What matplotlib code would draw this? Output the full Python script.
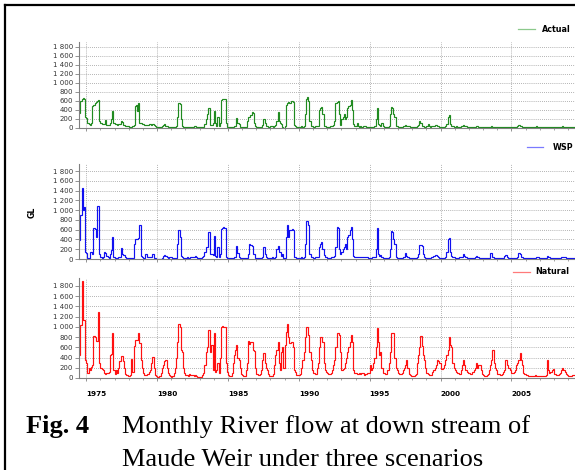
import numpy as np
import matplotlib
matplotlib.use("Agg")
import matplotlib.pyplot as plt
from matplotlib.lines import Line2D
from matplotlib.ticker import MultipleLocator, FuncFormatter

# Monthly flow (GL), one row per water year Jul(Y) .. Jun(Y+1), starting Jul 1974
start_year = 1974.5
water_years = list(range(1974, 2009))

actual = [
    [330, 600, 650, 660, 640, 250, 230, 110, 80, 70, 100, 480],
    [520, 560, 580, 610, 620, 150, 100, 90, 80, 80, 180, 60],
    [60, 70, 120, 190, 380, 100, 90, 80, 70, 90, 80, 150],
    [140, 70, 60, 50, 40, 40, 30, 30, 30, 40, 60, 480],
    [520, 380, 550, 120, 100, 90, 80, 70, 60, 60, 70, 80],
    [80, 60, 90, 70, 40, 30, 30, 30, 20, 30, 50, 60],
    [80, 50, 40, 30, 20, 20, 20, 20, 20, 20, 40, 250],
    [560, 540, 200, 40, 30, 20, 20, 20, 20, 20, 30, 30],
    [30, 40, 40, 30, 20, 20, 20, 20, 20, 30, 80, 200],
    [300, 450, 440, 60, 60, 100, 380, 120, 50, 250, 50, 100],
    [620, 650, 650, 640, 100, 30, 20, 20, 20, 20, 30, 40],
    [50, 220, 120, 80, 30, 30, 20, 20, 20, 30, 150, 250],
    [250, 280, 350, 340, 120, 40, 20, 20, 10, 20, 30, 60],
    [200, 120, 40, 40, 30, 30, 40, 40, 30, 40, 60, 150],
    [350, 150, 120, 80, 30, 10, 40, 500, 560, 580, 560, 600],
    [600, 580, 60, 40, 30, 30, 20, 30, 40, 30, 40, 300],
    [650, 680, 600, 150, 50, 40, 30, 30, 40, 40, 50, 400],
    [450, 460, 300, 50, 40, 30, 30, 30, 40, 40, 50, 60],
    [150, 560, 580, 600, 300, 60, 200, 250, 300, 200, 250, 450],
    [480, 500, 620, 400, 80, 50, 40, 100, 40, 30, 40, 30],
    [40, 50, 40, 30, 30, 20, 20, 20, 30, 30, 40, 200],
    [450, 80, 60, 50, 100, 40, 30, 30, 30, 30, 40, 300],
    [460, 450, 300, 250, 50, 40, 30, 30, 30, 30, 40, 40],
    [60, 50, 40, 40, 30, 30, 30, 30, 30, 30, 40, 60],
    [150, 120, 50, 40, 30, 30, 50, 80, 40, 30, 40, 50],
    [50, 60, 70, 50, 40, 30, 30, 30, 30, 30, 40, 80],
    [250, 290, 80, 50, 40, 30, 30, 50, 30, 30, 30, 40],
    [40, 60, 50, 40, 30, 20, 20, 20, 20, 20, 30, 30],
    [50, 40, 30, 20, 20, 20, 15, 15, 15, 20, 20, 20],
    [30, 40, 30, 20, 20, 20, 15, 15, 15, 15, 20, 20],
    [30, 30, 25, 20, 20, 20, 15, 15, 15, 20, 30, 40],
    [70, 50, 40, 30, 20, 20, 15, 15, 15, 15, 20, 20],
    [25, 30, 20, 40, 30, 20, 15, 15, 15, 15, 15, 20],
    [30, 30, 25, 20, 20, 15, 15, 15, 15, 15, 20, 20],
    [30, 35, 30, 25, 20, 15, 15, 15, 15, 15, 20, 20],
]

wsp = [
    [380, 900, 1460, 1000, 1070, 150, 120, 20, 10, 150, 150, 100],
    [630, 620, 450, 1080, 1080, 100, 40, 30, 40, 150, 120, 60],
    [40, 30, 100, 180, 450, 50, 30, 30, 20, 40, 50, 220],
    [100, 90, 80, 40, 30, 30, 30, 20, 20, 20, 300, 400],
    [400, 410, 420, 700, 60, 40, 30, 30, 100, 40, 40, 40],
    [40, 50, 100, 30, 20, 10, 10, 10, 10, 10, 20, 60],
    [80, 60, 40, 30, 40, 50, 40, 30, 20, 20, 30, 300],
    [600, 450, 60, 40, 30, 30, 30, 40, 30, 30, 40, 50],
    [40, 50, 60, 40, 30, 30, 30, 30, 40, 60, 150, 250],
    [250, 550, 550, 100, 100, 80, 470, 60, 50, 250, 50, 100],
    [620, 640, 650, 640, 50, 30, 20, 20, 20, 30, 30, 40],
    [50, 260, 120, 40, 30, 20, 20, 20, 20, 20, 30, 100],
    [300, 280, 270, 100, 110, 30, 20, 20, 20, 20, 20, 40],
    [250, 110, 40, 30, 20, 20, 30, 40, 30, 30, 40, 200],
    [260, 150, 150, 60, 100, 20, 20, 450, 700, 450, 600, 600],
    [620, 600, 50, 40, 30, 30, 20, 30, 40, 30, 40, 300],
    [780, 780, 700, 100, 50, 40, 30, 30, 40, 40, 50, 250],
    [300, 350, 200, 80, 40, 40, 30, 30, 30, 40, 40, 50],
    [60, 250, 650, 640, 200, 100, 150, 200, 250, 300, 200, 450],
    [500, 600, 650, 400, 60, 50, 50, 40, 40, 40, 40, 40],
    [50, 50, 40, 40, 40, 30, 30, 30, 40, 40, 50, 200],
    [640, 100, 60, 80, 40, 30, 30, 30, 30, 30, 40, 200],
    [580, 560, 400, 300, 50, 30, 30, 30, 30, 30, 40, 40],
    [120, 60, 40, 30, 30, 30, 30, 30, 30, 30, 50, 100],
    [280, 280, 260, 100, 50, 30, 30, 30, 30, 30, 40, 50],
    [70, 80, 80, 70, 40, 30, 30, 30, 30, 30, 40, 150],
    [400, 420, 150, 60, 40, 40, 30, 30, 30, 30, 40, 40],
    [50, 100, 60, 40, 30, 30, 30, 30, 30, 30, 30, 40],
    [60, 50, 40, 30, 30, 20, 20, 20, 20, 20, 30, 30],
    [130, 120, 40, 30, 30, 20, 20, 20, 20, 20, 30, 30],
    [60, 80, 40, 30, 20, 20, 20, 20, 20, 20, 30, 40],
    [120, 110, 50, 40, 30, 30, 20, 20, 20, 20, 20, 30],
    [30, 30, 30, 50, 40, 30, 20, 20, 20, 20, 20, 30],
    [60, 50, 40, 30, 30, 20, 20, 20, 20, 20, 30, 30],
    [40, 50, 50, 40, 30, 20, 20, 20, 20, 20, 30, 30],
]

natural = [
    [450, 1030, 1900, 1130, 1130, 350, 300, 100, 200, 150, 220, 250],
    [820, 800, 720, 730, 1300, 300, 200, 180, 150, 100, 80, 90],
    [100, 120, 450, 470, 880, 150, 80, 150, 100, 200, 330, 430],
    [430, 330, 200, 80, 50, 30, 30, 50, 380, 120, 620, 750],
    [750, 740, 870, 680, 350, 200, 100, 60, 60, 80, 80, 120],
    [150, 300, 420, 200, 60, 30, 20, 20, 40, 100, 200, 250],
    [330, 350, 200, 100, 50, 30, 20, 40, 100, 200, 400, 700],
    [1050, 1000, 550, 500, 200, 100, 50, 60, 40, 70, 50, 60],
    [60, 40, 60, 40, 20, 10, 10, 20, 60, 100, 250, 500],
    [600, 940, 930, 500, 650, 150, 870, 120, 150, 300, 100, 400],
    [1000, 1020, 1000, 990, 300, 120, 50, 40, 30, 100, 300, 450],
    [550, 650, 400, 350, 200, 80, 50, 30, 30, 150, 300, 720],
    [660, 700, 700, 550, 520, 200, 80, 50, 50, 80, 150, 350],
    [480, 300, 200, 150, 80, 40, 30, 40, 80, 250, 450, 550],
    [700, 300, 150, 500, 600, 200, 650, 900, 1050, 800, 680, 700],
    [700, 600, 150, 120, 60, 50, 60, 80, 200, 350, 500, 800],
    [1000, 1000, 850, 500, 350, 150, 100, 90, 80, 200, 300, 600],
    [800, 800, 700, 300, 150, 120, 100, 80, 80, 100, 150, 250],
    [350, 600, 880, 870, 850, 500, 150, 180, 200, 300, 400, 500],
    [600, 700, 850, 700, 150, 100, 100, 80, 80, 100, 80, 100],
    [100, 50, 80, 80, 100, 100, 250, 150, 200, 300, 400, 600],
    [980, 700, 450, 500, 200, 100, 100, 80, 80, 150, 300, 500],
    [880, 880, 880, 400, 200, 150, 100, 80, 80, 100, 150, 200],
    [250, 350, 200, 80, 50, 40, 30, 40, 50, 80, 300, 450],
    [600, 830, 620, 450, 350, 200, 100, 80, 60, 60, 60, 120],
    [150, 200, 250, 350, 330, 300, 180, 180, 200, 250, 350, 450],
    [550, 810, 650, 600, 300, 200, 150, 120, 100, 90, 80, 150],
    [250, 350, 250, 150, 120, 100, 90, 80, 80, 120, 150, 200],
    [300, 200, 250, 250, 150, 80, 50, 40, 40, 50, 80, 150],
    [250, 350, 540, 300, 200, 150, 80, 70, 60, 60, 80, 120],
    [150, 350, 250, 200, 200, 150, 100, 100, 120, 150, 250, 300],
    [350, 490, 350, 250, 100, 80, 60, 50, 40, 40, 40, 30],
    [30, 40, 50, 40, 30, 30, 30, 30, 30, 40, 40, 60],
    [350, 150, 100, 120, 150, 180, 80, 70, 60, 60, 80, 100],
    [150, 200, 150, 120, 80, 50, 40, 30, 30, 50, 50, 60],
]

series_names = ["Actual", "WSP", "Natural"]
series_data = [actual, wsp, natural]
year_ticks = [1975, 1980, 1985, 1990, 1995, 2000, 2005]
y_ticks = [0, 200, 400, 600, 800, 1000, 1200, 1400, 1600, 1800]

# ---- styling ----
W, H = 575, 470
line_colors = ["#1f8a1f", "#1010f0", "#ff1010"]
legend_colors = ["#8cc98c", "#7a7aff", "#ff7a7a"]
# panel (top_px, bottom_px, ymax)
panels = [(42, 128, 1910), (164, 259, 1945), (278, 378, 1955)]
legend_pos = [  # (line_x0, line_x1, text_x, y)
    (518, 535, 542, 29),
    (527, 543, 553, 147),
    (513, 530, 535, 272),
]
x_left_px = 79.2
x_right_year = 2009.49

fig = plt.figure(figsize=(W / 100, H / 100), dpi=100)
fig.patch.set_facecolor("white")

def thousands(v, pos):
    return f"{int(round(v)):,}".replace(",", " ")

for i, (name, rows, color) in enumerate(zip(series_names, series_data, line_colors)):
    top_px, bot_px, ymax = panels[i]
    ax = fig.add_axes([x_left_px / W, 1 - bot_px / H, (W - x_left_px) / W, (bot_px - top_px) / H])
    vals = np.array(rows, dtype=float).ravel()
    x = start_year + np.arange(len(vals)) / 12.0
    xs = np.append(x, x[-1] + 1 / 12.0)
    ys = np.append(vals, vals[-1])
    ax.step(xs, ys, where="post", color=color, lw=0.85, solid_joinstyle="miter")
    ax.set_xlim(start_year, x_right_year)
    ax.set_ylim(0, ymax)
    ax.set_yticks(y_ticks)
    ax.yaxis.set_major_formatter(FuncFormatter(thousands))
    ax.set_xticks(year_ticks)
    ax.xaxis.set_minor_locator(MultipleLocator(1))
    ax.grid(True, which="major", axis="both", linestyle=(0, (1, 1.5)), color="#9a9a9a", lw=0.6)
    ax.set_axisbelow(True)
    for s in ("top", "right"):
        ax.spines[s].set_visible(False)
    for s in ("left", "bottom"):
        ax.spines[s].set_color("#808080")
        ax.spines[s].set_linewidth(0.8)
    ax.tick_params(axis="y", which="major", length=3, width=0.6, color="#808080",
                   labelsize=5.0, labelcolor="#333333", pad=1.5)
    ax.tick_params(axis="x", which="major", length=2.2, width=0.6, color="#808080")
    ax.tick_params(axis="x", which="minor", length=1.2, width=0.5, color="#808080")
    if i < 2:
        ax.tick_params(axis="x", labelbottom=False)
    else:
        ax.tick_params(axis="x", labelsize=5.2, pad=7.0)
        for lab in ax.get_xticklabels():
            lab.set_ha("left")
            lab.set_fontweight("bold")
    # legend
    lx0, lx1, tx, ly = legend_pos[i]
    fig.add_artist(Line2D([lx0 / W, lx1 / W], [1 - ly / H, 1 - ly / H],
                          transform=fig.transFigure, color=legend_colors[i], lw=0.9))
    fig.text(tx / W, 1 - ly / H, name, fontsize=5.8, fontweight="bold",
             ha="left", va="center", color="black")

fig.text(32.5 / W, 1 - 212 / H, "GL", rotation=90, fontsize=5.6, fontweight="bold",
         ha="center", va="center")

# frame lines (top and left)
fig.add_artist(Line2D([5 / W, 1.0], [1 - 5 / H, 1 - 5 / H], transform=fig.transFigure,
                      color="black", lw=1.6))
fig.add_artist(Line2D([5 / W, 5 / W], [1 - 5 / H, 0.0], transform=fig.transFigure,
                      color="black", lw=1.6))

# caption
serif = ["Liberation Serif", "DejaVu Serif"]
fig.text(26 / W, 1 - 433 / H, "Fig. 4", family=serif, fontsize=19, fontweight="bold",
         ha="left", va="baseline")
fig.text(122 / W, 1 - 433 / H, "Monthly River flow at down stream of", family=serif,
         fontsize=19, ha="left", va="baseline")
fig.text(122 / W, 1 - 466 / H, "Maude Weir under three scenarios", family=serif,
         fontsize=19, ha="left", va="baseline")

fig.savefig("out.png", dpi=100, facecolor="white")
